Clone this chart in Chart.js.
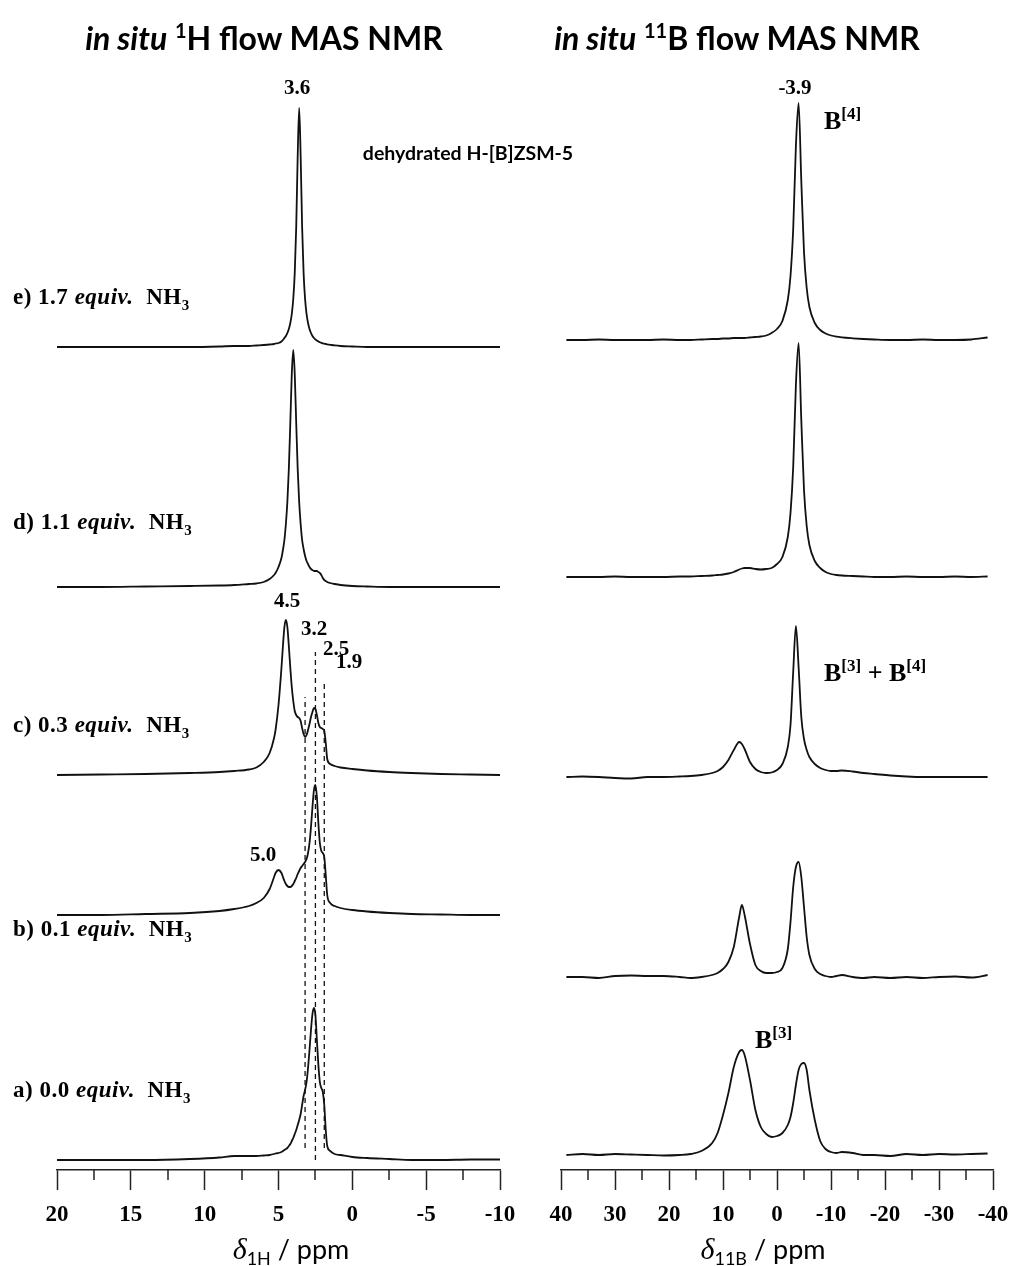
<!DOCTYPE html>
<html>
<head>
<meta charset="utf-8">
<script src="https://cdn.jsdelivr.net/npm/chart.js@4.4.1/dist/chart.umd.min.js"></script>
<style>
  body { margin: 0; background: #fff; }
  #wrap { position: relative; width: 1014px; height: 1266px; overflow: hidden; }
  canvas { position: absolute; top: 0; }
  .lab { position: absolute; font-family: 'Liberation Serif', 'Times New Roman', serif; font-weight: bold; font-size: 21px; line-height: 22px; white-space: nowrap; color: #000; }
  .lab sub { font-size: 15px; vertical-align: -6px; line-height: 0; }
  .lab sup { font-size: 17px; vertical-align: 10px; line-height: 0; }
  .row { font-size: 23px; letter-spacing: 0.5px; }
  .big { font-size: 26px; line-height: 26px; }
  .c { transform: translate(-50%, -50%); }
  .ttl { position: absolute; font-family: Lato, 'Open Sans', sans-serif; font-weight: bold; font-size: 32px; white-space: nowrap; transform: translate(-50%, -50%); }
  .ttl sup { font-size: 20px; vertical-align: 12px; line-height: 0; }
  .sub { position: absolute; font-family: Lato, 'Open Sans', sans-serif; font-weight: bold; font-size: 19.5px; white-space: nowrap; transform: translate(-50%, -50%); }
  .ax { position: absolute; font-family: Lato, 'Open Sans', sans-serif; font-size: 27px; white-space: nowrap; transform: translate(-50%, -50%); }
  .ax .d { font-family: 'Liberation Serif', serif; font-style: italic; font-size: 30px; }
  .ax sub { font-size: 18px; vertical-align: -6px; line-height: 0; }
</style>
</head>
<body>
<div id="wrap">
  <canvas id="chartH" width="540" height="1266" style="left:0"></canvas>
  <canvas id="chartB" width="530" height="1266" style="left:510px"></canvas>

  <div class="ttl" style="left:264px;top:37px"><i>in situ</i> <sup>1</sup>H flow MAS NMR</div>
  <div class="ttl" style="left:737px;top:37px"><i>in situ</i> <sup>11</sup>B flow MAS NMR</div>
  <div class="sub" style="left:468px;top:152px">dehydrated H-[B]ZSM-5</div>

  <div class="lab row" style="left:13px;top:286px">e) 1.7 <i>equiv.</i>&nbsp; NH<sub>3</sub></div>
  <div class="lab row" style="left:13px;top:511px">d) 1.1 <i>equiv.</i>&nbsp; NH<sub>3</sub></div>
  <div class="lab row" style="left:13px;top:714px">c) 0.3 <i>equiv.</i>&nbsp; NH<sub>3</sub></div>
  <div class="lab row" style="left:13px;top:918px">b) 0.1 <i>equiv.</i>&nbsp; NH<sub>3</sub></div>
  <div class="lab row" style="left:13px;top:1079px">a) 0.0 <i>equiv.</i>&nbsp; NH<sub>3</sub></div>

  <div class="lab c" style="left:297px;top:87px">3.6</div>
  <div class="lab c" style="left:287px;top:600px">4.5</div>
  <div class="lab c" style="left:314px;top:628px">3.2</div>
  <div class="lab c" style="left:336px;top:648px">2.5</div>
  <div class="lab c" style="left:349px;top:661px">1.9</div>
  <div class="lab c" style="left:263px;top:854px">5.0</div>

  <div class="lab c" style="left:795px;top:87px">-3.9</div>
  <div class="lab big" style="left:824px;top:108px">B<sup>[4]</sup></div>
  <div class="lab big" style="left:824px;top:660px">B<sup>[3]</sup> + B<sup>[4]</sup></div>
  <div class="lab big" style="left:755px;top:1027px">B<sup>[3]</sup></div>

  <div class="ax" style="left:291px;top:1249px"><span class="d">δ</span><sub>1H</sub> / ppm</div>
  <div class="ax" style="left:763px;top:1249px"><span class="d">δ</span><sub>11B</sub> / ppm</div>
</div>

<script>
// 1H spectra: chemical shift points (ppm) and intensities
const PPM_H = [20, 17, 14, 11, 9, 8, 7, 6.5, 6,
    5.6, 5.3, 5.2, 5.0, 4.8,
    4.7, 4.6, 4.5, 4.4, 4.3, 4.2, 4.1, 4.0, 3.9, 3.8,
    3.7, 3.6, 3.5, 3.4, 3.3, 3.2, 3.1, 3.0, 2.9, 2.8,
    2.7, 2.6, 2.5, 2.4, 2.3, 2.2, 2.1, 2.0, 1.9, 1.8, 1.7,
    1.5, 1.2, 0.8, 0, -1, -2.5, -4, -6, -8, -10];

const H_E = [0, 0, 0, 0, 0.5, 1, 1, 1.5, 2,
    2.5, 3, 3.5, 4, 5.5,
    7, 9, 11, 14, 18, 24, 33, 48, 74, 120,
    191, 239, 191, 120, 74, 48, 33, 24, 18, 14,
    11, 9, 7.5, 6.5, 5.5, 4.8, 4.2, 3.7, 3.3, 3, 2.6,
    2.2, 1.6, 1, 0.5, 0, 0, 0, 0, 0, 0];
const H_D = [0, 0, 0.5, 1, 1.5, 2, 3, 3.5, 5,
    8, 12, 14, 20, 29,
    37, 47, 63, 85, 118, 164, 213, 237, 213, 164,
    118, 85, 63, 47, 38, 31, 26, 23, 20, 18,
    17, 16, 16, 16, 15, 14, 12, 9, 7, 6, 5,
    4, 3, 2, 1, 0.5, 0, 0, 0, 0, 0];
const H_C = [0, 0.5, 1, 2, 3, 4, 5.5, 7.5, 13,
    22, 37, 45, 70, 107,
    129, 148, 155, 148, 129, 107, 88, 74, 64, 60,
    58, 57, 54, 47, 41, 38, 40, 45, 51, 58,
    63, 67, 66, 60, 52, 48, 47, 46, 44, 32, 16,
    11, 9, 7.5, 6, 4.5, 3, 2, 1, 0.5, 0];
const H_B = [0, 0, 1, 2, 4, 6, 9, 12, 17,
    26, 38, 42, 45, 42,
    38, 34, 31, 29, 28, 28, 29, 31, 34, 37,
    41, 44, 47, 49, 51, 53, 56, 62, 72, 88,
    108, 125, 130, 118, 92, 72, 64, 62, 58, 40, 20,
    12, 9, 7, 5, 3.5, 2, 1, 0.5, 0, 0];
const H_A = [0, 0, 0, 1, 2.5, 4, 4, 4, 4.5,
    5, 6, 6.5, 7, 8,
    9, 10, 11, 12, 14, 16, 19, 22, 26, 30,
    35, 40, 46, 55, 64, 70, 78, 92, 110, 130,
    146, 152, 145, 120, 95, 78, 72, 68, 55, 30, 14,
    9, 6, 5, 3, 2, 1, 0, 0, 0.5, 0.5];

const H_TRACES = [H_E, H_D, H_C, H_B, H_A];
const H_OFFSET = [823, 583, 395, 255, 10];
const H_TICKS = [20, 15, 10, 5, 0, -5, -10];
const H_MINOR = [17.5, 12.5, 7.5, 2.5, -2.5, -7.5];
const H_GUIDES = [3.2, 2.5, 1.9];
const H_GUIDE_LOW = [22, 10, 22];
const H_GUIDE_HIGH = [473, 518, 490];

// 11B spectra
const PPM_B = [39, 36, 33, 30, 27, 24, 21, 18,
    16, 14, 12,
    11, 10, 9, 8, 7,
    6.5,
    6, 5, 4, 3, 2, 1, 0, -1, -2,
    -2.5, -3, -3.5, -4, -4.5, -5, -5.5, -6,
    -7, -8, -9, -10, -11, -12,
    -14, -16, -18,
    -21, -24, -27, -30, -33, -36, -39];

const B_E = [0, 0, 0.5, 0, 0, 0, 0.5, 0,
    0, 0.5, 1,
    1, 1.5, 1.5, 2, 2,
    2,
    2, 2.5, 3, 3.5, 4.5, 7, 11, 19, 40,
    64, 111, 194, 237, 159, 88, 52, 33,
    17, 10, 6.5, 4.5, 3.3, 2.6,
    1.7, 1, 0.5,
    0, 0, 0.5, 0, 0, 0.5, 2.5];
const B_D = [0, 0, 0, 0.5, 0, 0, 0, 0.5,
    0.5, 1, 1.5,
    2, 2.5, 3.5, 5, 7.5,
    8.5,
    9, 9, 8, 7.5, 8, 9, 13, 20, 40,
    64, 110, 192, 234, 157, 87, 51, 32,
    16, 9, 5, 3, 2, 1.5,
    1, 0.5, 0,
    0, 0.5, 0, 0, 0.5, 0, 0.5];
const B_C = [0, 0.5, 0, -1, -1.5, 0, 0, 0.5,
    1, 2, 4,
    6, 10, 17, 27, 35,
    33,
    28, 15, 8, 5, 4, 4.5, 7, 13, 30,
    52, 105, 151, 110, 60, 38, 27, 20,
    13, 9, 7, 6, 6, 6.5,
    5.5, 4, 3,
    1.5, 0.5, 0, 0, 0, 0, 0];
const B_B = [0, 0, -1, 1, 1.5, 1, 1, 0,
    -1, 0, 2,
    4, 8, 15, 30, 60,
    72,
    62, 33, 12, 6, 4, 4, 5, 9, 28,
    55, 90, 110, 115, 100, 70, 40, 22,
    8, 3, 1, 0, 1, 2,
    0, -1, 0,
    -1, 0, -1, 0, 0.5, -0.5, 2];
const B_A = [0, 1, 0, 1, 0.5, 0, -0.5, 0,
    1, 4, 12,
    22, 40, 62, 88, 103,
    105,
    100, 75, 45, 28, 21, 18, 19, 22, 30,
    38, 52, 70, 85, 91, 92, 85, 65,
    35, 14, 6, 3, 2, 3,
    2, 0, 0,
    -1, 1, 0, 1, 0.5, 1, 1.5];

const B_TRACES = [B_E, B_D, B_C, B_B, B_A];
const B_OFFSET = [830, 593, 393, 193, 15];
const B_TICKS = [40, 30, 20, 10, 0, -10, -20, -30, -40];
const B_MINOR = [35, 25, 15, 5, -5, -15, -25, -35];

// short ticks between the labelled ones
const minorTicks = {
    id: 'minorTicks',
    afterDraw(chart, args, opts) {
        const sc = chart.scales.x;
        const ctx = chart.ctx;
        ctx.save();
        ctx.strokeStyle = '#222';
        ctx.lineWidth = 1.5;
        opts.values.forEach(v => {
            const px = Math.round(sc.getPixelForValue(v));
            ctx.beginPath();
            ctx.moveTo(px, sc.top);
            ctx.lineTo(px, sc.top + 10);
            ctx.stroke();
        });
        ctx.restore();
    }
};

function traceSet(xs, ys, off) {
    return {
        data: xs.map((x, i) => ({ x: x, y: off + ys[i] })),
        borderColor: '#111',
        borderWidth: 1.8,
        pointRadius: 0,
        cubicInterpolationMode: 'monotone',
        fill: false
    };
}

function guideSet(x, lo, hi) {
    return {
        data: [{ x: x, y: lo }, { x: x, y: hi }],
        borderColor: '#111',
        borderWidth: 1.3,
        borderDash: [5, 4],
        pointRadius: 0,
        fill: false
    };
}

function renderPanel(id, xs, traces, offsets, ticks, minor, min, max, padL, padR, extra) {
    const datasets = traces.map((t, k) => traceSet(xs, t, offsets[k])).concat(extra);
    new Chart(document.getElementById(id), {
        type: 'line',
        data: { datasets: datasets },
        plugins: [minorTicks],
        options: {
            responsive: false,
            animation: false,
            layout: { padding: { left: padL, right: padR, top: 80, bottom: 0 } },
            plugins: {
                legend: { display: false },
                tooltip: { enabled: false },
                minorTicks: { values: minor }
            },
            scales: {
                x: {
                    type: 'linear',
                    reverse: true,
                    min: min,
                    max: max,
                    afterBuildTicks: s => { s.ticks = ticks.map(v => ({ value: v })); },
                    afterFit: s => { s.height = 96; },
                    border: { display: true, color: '#222', width: 1.5 },
                    grid: { display: true, drawOnChartArea: false, drawTicks: true, tickLength: 20, tickColor: '#222', tickWidth: 1.5 },
                    ticks: {
                        color: '#000',
                        padding: 11,
                        maxRotation: 0,
                        autoSkip: false,
                        font: { family: 'Liberation Serif', weight: 'bold', size: 23 },
                        callback: v => String(v)
                    }
                },
                y: { display: false, min: 0, max: 1090 }
            }
        }
    });
}

const hGuides = H_GUIDES.map((g, i) => guideSet(g, H_GUIDE_LOW[i], H_GUIDE_HIGH[i]));
renderPanel('chartH', PPM_H, H_TRACES, H_OFFSET, H_TICKS, H_MINOR, -10, 20, 57, 40, hGuides);
renderPanel('chartB', PPM_B, B_TRACES, B_OFFSET, B_TICKS, B_MINOR, -40, 40, 51, 47, []);
</script>
</body>
</html>
